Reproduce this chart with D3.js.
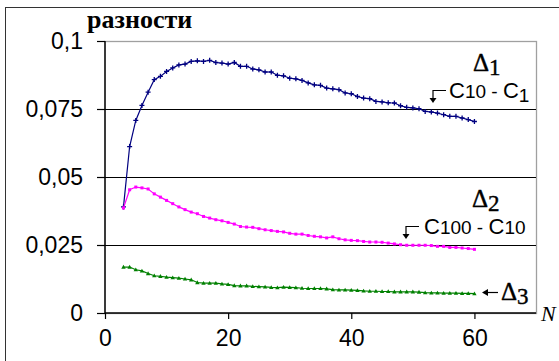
<!DOCTYPE html>
<html>
<head>
<meta charset="utf-8">
<script src="https://cdn.jsdelivr.net/npm/d3@7.9.0/dist/d3.min.js"></script>
<style>
  body { margin: 0; background: #fff; }
  svg { display: block; }
</style>
</head>
<body>
<svg id="chart" width="559" height="361"></svg>
<script>
// N values and the three difference series
const nValues = d3.range(3, 61);
const delta1 = [
  0.0390, 0.0612, 0.0708, 0.0763, 0.0812, 0.0858, 0.0870, 0.0888, 0.0901, 0.0912,
  0.0915, 0.0925, 0.0927, 0.0925, 0.0929, 0.0921, 0.0919, 0.0915, 0.0921, 0.0907,
  0.0907, 0.0897, 0.0894, 0.0886, 0.0886, 0.0874, 0.0872, 0.0863, 0.0861, 0.0855,
  0.0846, 0.0839, 0.0837, 0.0827, 0.0824, 0.0821, 0.0809, 0.0806, 0.0796, 0.0790,
  0.0788, 0.0778, 0.0776, 0.0773, 0.0772, 0.0762, 0.0756, 0.0754, 0.0751, 0.0741,
  0.0739, 0.0735, 0.0729, 0.0723, 0.0723, 0.0717, 0.0711, 0.0704
];
const delta2 = [
  0.0386, 0.0453, 0.0463, 0.0460, 0.0456, 0.0438, 0.0426, 0.0414, 0.0402, 0.0390,
  0.0380, 0.0371, 0.0365, 0.0355, 0.0349, 0.0343, 0.0339, 0.0333, 0.0327, 0.0318,
  0.0316, 0.0315, 0.0310, 0.0306, 0.0303, 0.0300, 0.0298, 0.0293, 0.0290, 0.0290,
  0.0285, 0.0282, 0.0280, 0.0276, 0.0280, 0.0273, 0.0269, 0.0267, 0.0266, 0.0263,
  0.0261, 0.0261, 0.0260, 0.0257, 0.0254, 0.0251, 0.0249, 0.0249, 0.0249, 0.0249,
  0.0248, 0.0245, 0.0245, 0.0241, 0.0241, 0.0239, 0.0237, 0.0234
];
const delta3 = [
  0.0169, 0.0169, 0.0159, 0.0155, 0.0145, 0.0137, 0.0135, 0.0132, 0.0130, 0.0128,
  0.0125, 0.0122, 0.0112, 0.0110, 0.0110, 0.0110, 0.0107, 0.0105, 0.0101, 0.0100,
  0.0100, 0.0098, 0.0097, 0.0096, 0.0094, 0.0093, 0.0095, 0.0094, 0.0093, 0.0091,
  0.0090, 0.0090, 0.0090, 0.0089, 0.0086, 0.0085, 0.0085, 0.0084, 0.0083, 0.0081,
  0.0080, 0.0080, 0.0079, 0.0079, 0.0078, 0.0078, 0.0078, 0.0078, 0.0077, 0.0075,
  0.0074, 0.0074, 0.0073, 0.0073, 0.0073, 0.0072, 0.0072, 0.0071
];
const xTicks = [0, 20, 40, 60];
const yTicks = [0, 0.025, 0.05, 0.075, 0.1];

const svg = d3.select('#chart');
const x = d3.scaleLinear().domain([0, 70]).range([105, 536]);
const y = d3.scaleLinear().domain([0, 0.1]).range([313, 41]);
const fmt = (v) => String(v).replace('.', ',');

// outer chart frame
svg.append('rect')
  .attr('x', 5.5).attr('y', 7.5)
  .attr('width', 600).attr('height', 400)
  .attr('fill', 'none').attr('stroke', '#333').attr('stroke-width', 1);

// plot area frame (grey)
svg.append('rect')
  .attr('x', x(0)).attr('y', y(0.1) + 0.5)
  .attr('width', x(70) - x(0) + 0.5).attr('height', y(0) - y(0.1))
  .attr('fill', 'none').attr('stroke', '#a0a0a0').attr('stroke-width', 1.3);

// horizontal gridlines
svg.append('g')
  .selectAll('line')
  .data(yTicks.filter((d) => d > 0 && d < 0.1))
  .enter()
  .append('line')
  .attr('x1', x(0)).attr('x2', x(70))
  .attr('y1', (d) => Math.round(y(d)) + 0.5)
  .attr('y2', (d) => Math.round(y(d)) + 0.5)
  .attr('stroke', '#000').attr('stroke-width', 1.2);

// y axis
const yAxis = svg.append('g')
  .attr('transform', `translate(${x(0)},0)`)
  .call(d3.axisLeft(y).tickValues(yTicks).tickSize(8).tickPadding(14).tickFormat(fmt));
// x axis
const xAxis = svg.append('g')
  .attr('transform', `translate(0,${y(0)})`)
  .call(d3.axisBottom(x).tickValues(xTicks).tickSize(6).tickPadding(9).tickFormat(fmt));

[yAxis, xAxis].forEach((g) => {
  g.select('.domain').attr('stroke', '#000').attr('stroke-width', 1.4);
  g.selectAll('.tick line').attr('stroke', '#000').attr('stroke-width', 1.2);
  g.selectAll('text')
    .attr('font-family', 'Liberation Sans, Arial, sans-serif')
    .attr('font-size', 23)
    .attr('fill', '#000');
});
xAxis.select('.domain').attr('d', `M${x(0)},0H${x(70)}`);
yAxis.select('.domain').attr('d', `M0,${y(0)}V${y(0.1)}`);
xAxis.selectAll('text').attr('dy', '0.78em');

// series
const series = [
  { name: 'd1', values: delta1, color: '#000080', marker: 'cross' },
  { name: 'd2', values: delta2, color: '#ff00ff', marker: 'square' },
  { name: 'd3', values: delta3, color: '#008000', marker: 'triangle' }
];

const line = d3.line()
  .x((d, i) => x(nValues[i]))
  .y((d) => y(d));

series.forEach((s) => {
  const g = svg.append('g');
  g.append('path')
    .datum(s.values)
    .attr('d', line)
    .attr('fill', 'none')
    .attr('stroke', s.color)
    .attr('stroke-width', 1.2);

  const pts = g.selectAll('.pt')
    .data(s.values)
    .enter();
  if (s.marker === 'cross') {
    pts.append('path')
      .attr('d', (d, i) => {
        const cx = x(nValues[i]), cy = y(d);
        return `M${cx - 2.5},${cy}H${cx + 2.5}M${cx},${cy - 2.5}V${cy + 2.5}`;
      })
      .attr('stroke', s.color).attr('stroke-width', 1.3);
  } else if (s.marker === 'square') {
    pts.append('rect')
      .attr('x', (d, i) => x(nValues[i]) - 1.5)
      .attr('y', (d) => y(d) - 1.5)
      .attr('width', 3).attr('height', 3)
      .attr('fill', s.color);
  } else {
    pts.append('path')
      .attr('d', (d, i) => {
        const cx = x(nValues[i]), cy = y(d);
        return `M${cx - 2.2},${cy + 1.6}L${cx},${cy - 2.2}L${cx + 2.2},${cy + 1.6}Z`;
      })
      .attr('fill', s.color);
  }
});

// title
svg.append('text')
  .attr('x', 87).attr('y', 28)
  .attr('font-family', 'Liberation Serif, Times New Roman, serif')
  .attr('font-weight', 'bold')
  .attr('font-size', 26)
  .text('разности');

// axis name N
svg.append('text')
  .attr('x', 541).attr('y', 321)
  .attr('font-family', 'Liberation Serif, Times New Roman, serif')
  .attr('font-style', 'italic')
  .attr('font-size', 22)
  .text('N');

// delta labels
function deltaLabel(px, py, sub) {
  const t = svg.append('text')
    .attr('x', px).attr('y', py)
    .attr('font-family', 'Liberation Serif, Times New Roman, serif')
    .attr('font-size', 25)
    .attr('stroke', '#000').attr('stroke-width', 0.4);
  t.append('tspan').text('Δ');
  t.append('tspan').attr('dy', 4).attr('font-size', 23).text(sub);
}
deltaLabel(473, 71, '1');
deltaLabel(472, 207, '2');
deltaLabel(501, 300, '3');

// "C.. - C.." labels with bent arrows
function cLabel(px, py, a, b) {
  const t = svg.append('text')
    .attr('x', px).attr('y', py)
    .attr('font-family', 'Liberation Sans, Arial, sans-serif')
    .attr('font-size', 22);
  t.append('tspan').text('C');
  t.append('tspan').attr('font-size', 19).text(a);
  t.append('tspan').attr('font-size', 19).text(' - ');
  t.append('tspan').attr('font-size', 22).text('C');
  if (b === '1') {
    t.append('tspan').attr('font-size', 19).attr('dy', 4).text(b);
  } else {
    t.append('tspan').attr('font-size', 19).text(b);
  }
}
function bentArrow(cx, top, bottom, right) {
  svg.append('path')
    .attr('d', `M${right},${top}H${cx}V${bottom - 4}`)
    .attr('fill', 'none').attr('stroke', '#000').attr('stroke-width', 1.2);
  svg.append('path')
    .attr('d', `M${cx - 3.5},${bottom - 5}L${cx + 3.5},${bottom - 5}L${cx},${bottom}Z`)
    .attr('fill', '#000');
}
cLabel(449, 98, '10', '1');
bentArrow(433, 90.5, 103, 446);
cLabel(424, 234, '100', '10');
bentArrow(406, 226.5, 239, 419);

// left arrow for Δ3
svg.append('line')
  .attr('x1', 486).attr('x2', 498)
  .attr('y1', 292.5).attr('y2', 292.5)
  .attr('stroke', '#000').attr('stroke-width', 1.2);
svg.append('path')
  .attr('d', 'M482,292.5L488,289L488,296Z')
  .attr('fill', '#000');
</script>
</body>
</html>
